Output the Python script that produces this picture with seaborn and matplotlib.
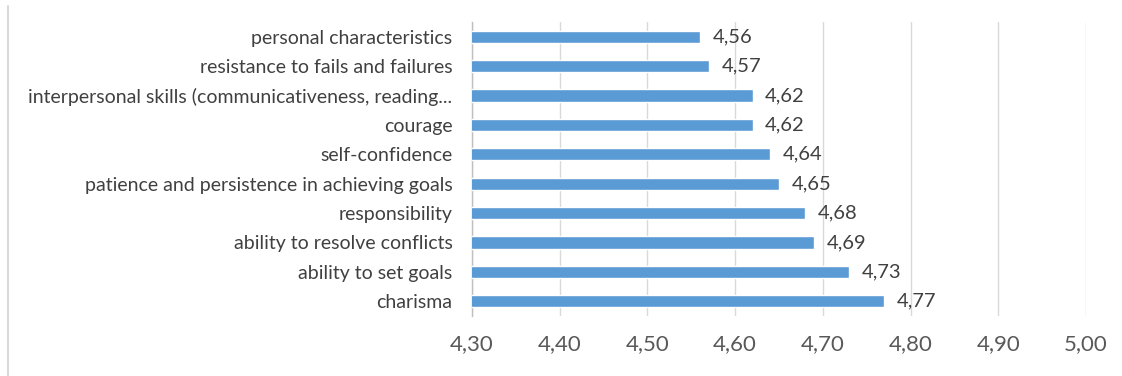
import matplotlib
matplotlib.use("Agg")
import matplotlib.pyplot as plt
from matplotlib.lines import Line2D
import seaborn as sns
import pandas as pd

# Survey ratings of leadership traits
traits = [
    "personal characteristics",
    "resistance to fails and failures",
    "interpersonal skills (communicativeness, reading...",
    "courage",
    "self-confidence",
    "patience and persistence in achieving goals",
    "responsibility",
    "ability to resolve conflicts",
    "ability to set goals",
    "charisma",
]
scores = [4.56, 4.57, 4.62, 4.62, 4.64, 4.65, 4.68, 4.69, 4.73, 4.77]
x_ticks = [4.30, 4.40, 4.50, 4.60, 4.70, 4.80, 4.90, 5.00]

df = pd.DataFrame({"trait": traits, "score": scores})

sns.set_theme(style="white")
plt.rcParams["font.family"] = ["Lato", "DejaVu Sans"]

fig = plt.figure(figsize=(11.22, 3.76), dpi=100)
ax = fig.add_axes([0.4207, 0.160, 0.5473, 0.781])

sns.barplot(data=df, x="score", y="trait", orient="h", color="#5B9BD5",
            width=0.42, saturation=1, ax=ax, zorder=3)

ax.set_xlim(4.30, 5.00)
ax.set_ylim(9.5, -0.5)
ax.set_xticks(x_ticks)
ax.set_xticklabels([f"{v:.2f}".replace(".", ",") for v in x_ticks],
                   fontsize=16, color="#595959")
ax.tick_params(axis="x", length=0, pad=13)
ax.tick_params(axis="y", length=0, pad=14, labelsize=14, labelcolor="#404040")
ax.set_xlabel("")
ax.set_ylabel("")

ax.grid(axis="x", color="#D9D9D9", linewidth=1, zorder=0)
for side in ("top", "right", "bottom"):
    ax.spines[side].set_visible(False)
ax.spines["left"].set_color("#BFBFBF")
ax.spines["left"].set_linewidth(1)

for i, v in enumerate(scores):
    ax.annotate(f"{v:.2f}".replace(".", ","), xy=(v, i), xytext=(9, 0),
                textcoords="offset points", va="center", ha="left",
                fontsize=14.5, color="#404040")

# frame edge on the left of the chart area
fig.add_artist(Line2D([0.0071, 0.0071], [0.0, 0.985], transform=fig.transFigure,
                      color="#D9D9D9", linewidth=1.5))

fig.savefig("out.png", dpi=100)
